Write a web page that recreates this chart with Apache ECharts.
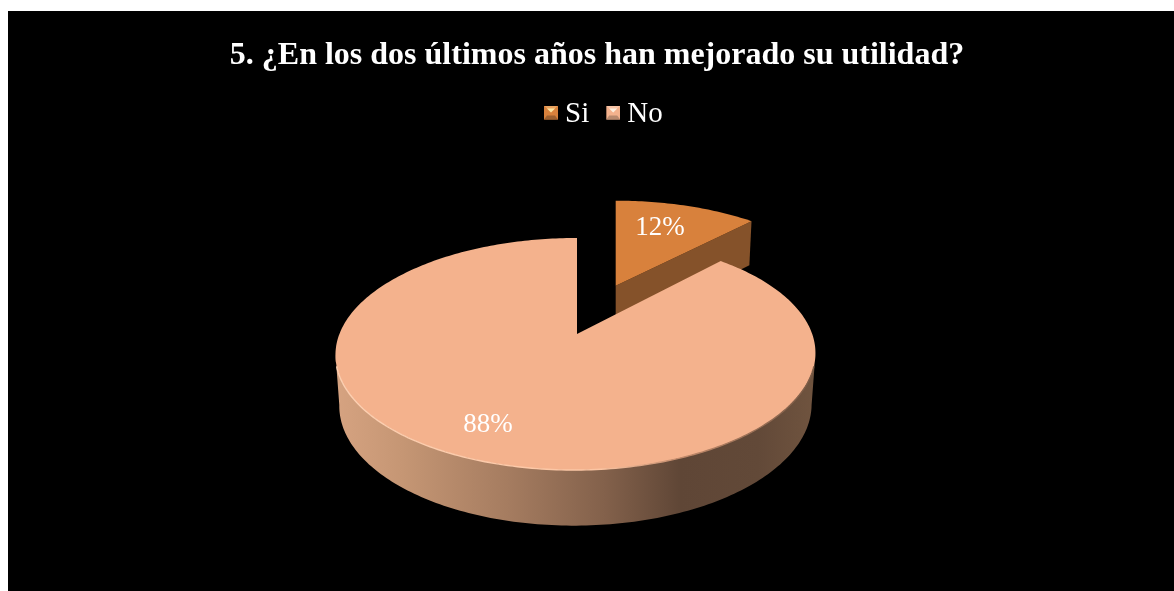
<!DOCTYPE html>
<html>
<head>
<meta charset="utf-8">
<style>
  html, body { margin: 0; padding: 0; background: #fff; }
  #chart { position: absolute; left: 8px; top: 11px; width: 1166px; height: 580px; }
</style>
<script src="https://cdn.jsdelivr.net/npm/echarts@6/dist/echarts.min.js"></script>
</head>
<body>
<div id="chart"></div>
<script>
// Survey answers
const categories = ['Si', 'No'];
const shares = [12, 88];
const titleText = '5. ¿En los dos últimos años han mejorado su utilidad?';

// Look of each slice
const topColors = ['#d8813c', '#f4b28d'];
const serifFont = '"Liberation Serif", "Times New Roman", serif';

// Perspective disc: apex on screen, radius, foreshortened radius, perspective strength, front lean, wall height
const discs = [
  { x: 607.7, y: 274.7, r: 223, b: 99.5, k: 0.17, lean: 0, wall: 49.5 },
  { x: 569, y: 323, r: 236.4, b: 112.55, k: 0.1724, lean: 2, wall: 51 }
];
const labelAnchors = [[652, 217], [480, 414]];

function project(d, deg) {
  const a = deg * Math.PI / 180;
  const u = Math.sin(a), v = -Math.cos(a);
  const f = 1 / (1 - d.k * v);
  const lean = d.lean * Math.max(0, v + 0.6);
  return [d.x + d.r * u * f - lean, d.y + d.b * v * f];
}

// The underside sits lower and a little narrower than the top face
function drop(d, p) {
  const depth = d.wall + (p[1] - 343) * 0.04;
  return [d.x - d.lean + (p[0] - d.x + d.lean) * 0.984, p[1] + depth];
}

function arc(d, from, to) {
  const pts = [];
  const n = Math.max(2, Math.ceil(Math.abs(to - from)));
  for (let i = 0; i <= n; i++) pts.push(project(d, from + (to - from) * i / n));
  return pts;
}

function sliceSpan(index) {
  const total = shares.reduce((s, v) => s + v, 0);
  const before = shares.slice(0, index).reduce((s, v) => s + v, 0);
  return [before / total * 360, (before + shares[index]) / total * 360];
}

function renderSi(params, api) {
  const d = discs[0];
  const [start, end] = sliceSpan(0);
  const apex = [d.x, d.y];
  const corner = project(d, end);
  const face = [apex].concat(arc(d, start, end));
  const side = [apex, corner, drop(d, corner), drop(d, apex)];
  return {
    type: 'group',
    children: [
      { type: 'polygon', shape: { points: side }, style: { fill: '#85522a' } },
      { type: 'polygon', shape: { points: face }, style: { fill: topColors[0] } },
      {
        type: 'text', x: labelAnchors[0][0], y: labelAnchors[0][1],
        style: {
          text: api.value(0) + '%', fill: '#fff', font: '27px ' + serifFont,
          align: 'center', verticalAlign: 'middle'
        }
      }
    ]
  };
}

function renderNo(params, api) {
  const d = discs[1];
  const [start, end] = sliceSpan(1);
  const face = [[d.x, d.y]].concat(arc(d, start, end));
  // Front wall runs between the two screen-extreme points of the rim
  const rimAngle = Math.acos(-d.k) * 180 / Math.PI;
  const rim = arc(d, rimAngle, 360 - rimAngle);
  const wall = rim.concat(rim.map(p => drop(d, p)).reverse());
  const edge = arc(d, rimAngle + 6, 354 - rimAngle);
  const wallFill = new echarts.graphic.LinearGradient(0, 0, 1, 0, [
    { offset: 0, color: '#d6a381' },
    { offset: 0.14, color: '#c59674' },
    { offset: 0.36, color: '#a57c60' },
    { offset: 0.56, color: '#83614b' },
    { offset: 0.72, color: '#5f4636' },
    { offset: 0.88, color: '#624938' },
    { offset: 1, color: '#70543f' }
  ]);
  const rimStroke = new echarts.graphic.LinearGradient(0, 0, 1, 0, [
    { offset: 0, color: '#fcd0b2' },
    { offset: 0.55, color: '#fcc6a4' },
    { offset: 0.72, color: '#c0896a' },
    { offset: 1, color: '#7a5a45' }
  ]);
  return {
    type: 'group',
    children: [
      { type: 'polygon', shape: { points: wall }, style: { fill: wallFill } },
      { type: 'polygon', shape: { points: face }, style: { fill: topColors[1] } },
      { type: 'polyline', shape: { points: edge }, style: { stroke: rimStroke, lineWidth: 1.4, fill: 'none' } },
      {
        type: 'text', x: labelAnchors[1][0], y: labelAnchors[1][1],
        style: {
          text: api.value(0) + '%', fill: '#fff', font: '27px ' + serifFont,
          align: 'center', verticalAlign: 'middle'
        }
      }
    ]
  };
}

// Small bevelled key swatch, sitting at the top of a slightly taller box
function bevelIcon(base, light, pale, dark) {
  const svg = '<svg xmlns="http://www.w3.org/2000/svg" width="14" height="18">' +
    '<rect width="14" height="14" fill="' + base + '"/>' +
    '<polygon points="0,0 14,0 7,7" fill="' + light + '"/>' +
    '<polygon points="3,3 11,3 7,7" fill="' + pale + '"/>' +
    '<polygon points="0,14 14,14 11,10 3,10" fill="' + dark + '"/></svg>';
  return 'image://data:image/svg+xml;charset=utf-8,' + encodeURIComponent(svg);
}

const chart = echarts.init(document.getElementById('chart'), null, { renderer: 'canvas' });
chart.setOption({
  backgroundColor: '#000',
  animation: false,
  title: {
    text: titleText,
    left: 584,
    top: 24,
    textAlign: 'center',
    textStyle: { color: '#fff', fontFamily: serifFont, fontWeight: 'bold', fontSize: 32 }
  },
  legend: {
    left: 531,
    top: 84,
    itemWidth: 14,
    itemHeight: 18,
    itemGap: 17,
    textStyle: { color: '#fff', fontFamily: serifFont, fontSize: 29, padding: [0, 0, 0, 2] },
    data: [
      { name: categories[0], icon: bevelIcon('#d8813c', '#e9a25e', '#fbe3a0', '#9c6030') },
      { name: categories[1], icon: bevelIcon('#f4b28d', '#f8c4a6', '#fdeede', '#b98a6e') }
    ]
  },
  series: [
    { type: 'custom', name: categories[0], coordinateSystem: 'none', data: [shares[0]], renderItem: renderSi, itemStyle: { color: topColors[0] }, silent: true },
    { type: 'custom', name: categories[1], coordinateSystem: 'none', data: [shares[1]], renderItem: renderNo, itemStyle: { color: topColors[1] }, silent: true }
  ]
});
</script>
</body>
</html>
